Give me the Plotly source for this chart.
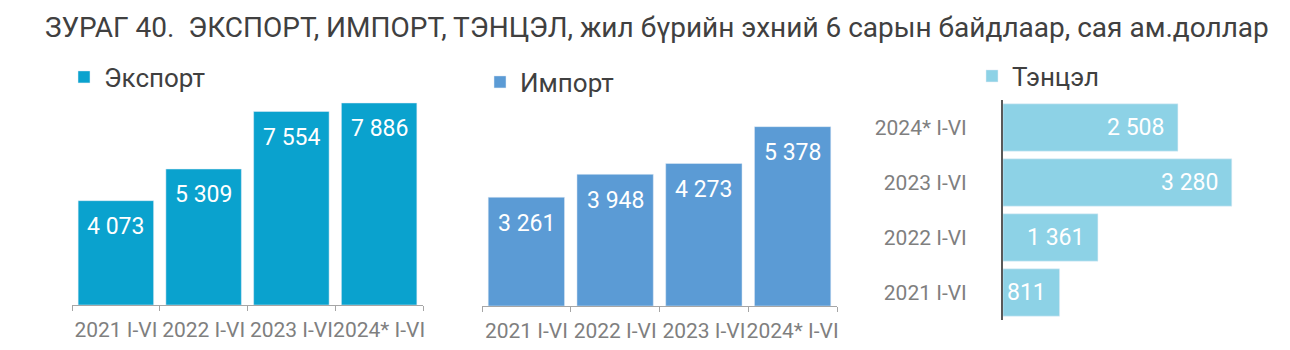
import plotly.graph_objects as go

# ---- data ----
categories = ["2021 I-VI", "2022 I-VI", "2023 I-VI", "2024* I-VI"]
export_vals = [4073, 5309, 7554, 7886]
import_vals = [3261, 3948, 4273, 5378]
balance_vals = [811, 1361, 3280, 2508]
export_labels = ["4 073", "5 309", "7 554", "7 886"]
import_labels = ["3 261", "3 948", "4 273", "5 378"]
balance_labels = ["811", "1 361", "3 280", "2 508"]
series_names = ["Экспорт", "Импорт", "Тэнцэл"]
title_text = "ЗУРАГ 40.  ЭКСПОРТ, ИМПОРТ, ТЭНЦЭЛ, жил бүрийн эхний 6 сарын байдлаар, сая ам.доллар"

C_EXP = "#0AA2CE"
C_IMP = "#5B9BD5"
C_BAL = "#8DD2E6"
FONT = "Roboto"
GRAY = "#7F7F7F"
DARK = "#404040"

W, H = 1290, 350
def px(x): return x / W
def py(y): return 1 - y / H

fig = go.Figure()

fig.add_trace(go.Bar(x=categories, y=export_vals, marker_color=C_EXP, name=series_names[0],
                     xaxis="x", yaxis="y", legend="legend", showlegend=True, hoverinfo="skip"))
fig.add_trace(go.Bar(x=categories, y=import_vals, marker_color=C_IMP, name=series_names[1],
                     xaxis="x2", yaxis="y2", legend="legend2", showlegend=True, hoverinfo="skip"))
fig.add_trace(go.Bar(y=categories, x=balance_vals, orientation="h", marker_color=C_BAL, name=series_names[2],
                     xaxis="x3", yaxis="y3", legend="legend3", showlegend=True, hoverinfo="skip"))

LBL = dict(family=FONT, size=23, color="white")
annotations = []
for c, v, t in zip(categories, export_vals, export_labels):
    annotations.append(dict(x=c, y=v, xref="x", yref="y", text=t, showarrow=False,
                            yanchor="middle", yshift=-26, font=LBL))
for c, v, t in zip(categories, import_vals, import_labels):
    annotations.append(dict(x=c, y=v, xref="x2", yref="y2", text=t, showarrow=False,
                            yanchor="middle", yshift=-26, font=LBL))
for c, v, t in zip(categories, balance_vals, balance_labels):
    annotations.append(dict(x=v, y=c, xref="x3", yref="y3", text=t, showarrow=False,
                            xanchor="right", xshift=-12, font=LBL))

annotations.append(dict(x=px(657), y=py(28), xref="paper", yref="paper", text=title_text, showarrow=False,
                        xanchor="center", yanchor="middle", font=dict(family=FONT, size=28, color=DARK)))

tickfont = dict(family=FONT, size=21, color=GRAY)
axis_gray = "#A6A6A6"

legend_common = dict(font=dict(family=FONT, size=26, color=DARK), bgcolor="rgba(0,0,0,0)",
                     xanchor="left", yanchor="middle", orientation="h", itemwidth=30)

cat_x = dict(type="category", categoryarray=categories, showline=True, linecolor=axis_gray, linewidth=1,
             ticks="outside", tickson="boundaries", ticklen=5, tickcolor=axis_gray, tickfont=tickfont,
             tickangle=0, ticklabelstandoff=6, fixedrange=True, automargin=False)

fig.update_layout(
    width=W, height=H,
    margin=dict(l=0, r=0, t=0, b=0, autoexpand=False),
    paper_bgcolor="white", plot_bgcolor="white",
    bargap=0.14,
    annotations=annotations,
    legend=dict(x=px(64), y=py(77), **legend_common),
    legend2=dict(x=px(480), y=py(82), **legend_common),
    legend3=dict(x=px(972), y=py(76), **legend_common),
    xaxis=dict(domain=[px(72), px(423)], anchor="y", **cat_x),
    yaxis=dict(domain=[py(305), py(95)], range=[0, 8198], visible=False, fixedrange=True, automargin=False),
    xaxis2=dict(domain=[px(482), px(837)], anchor="y2", **cat_x),
    yaxis2=dict(domain=[py(306), py(96)], range=[0, 6297], visible=False, fixedrange=True, anchor="x2",
                automargin=False),
    xaxis3=dict(domain=[px(1003), px(1282)], range=[0, 4000], visible=False, fixedrange=True, anchor="y3",
                automargin=False),
    yaxis3=dict(domain=[py(320), py(100)], type="category", categoryarray=categories, anchor="x3",
                showline=True, linecolor="#595959", linewidth=2, ticks="", tickfont=tickfont,
                ticklabelstandoff=30, showgrid=False, fixedrange=True, automargin=False),
)
fig.update_xaxes(showgrid=False, zeroline=False)
fig.update_yaxes(showgrid=False, zeroline=False)

fig.write_html("out.html")
